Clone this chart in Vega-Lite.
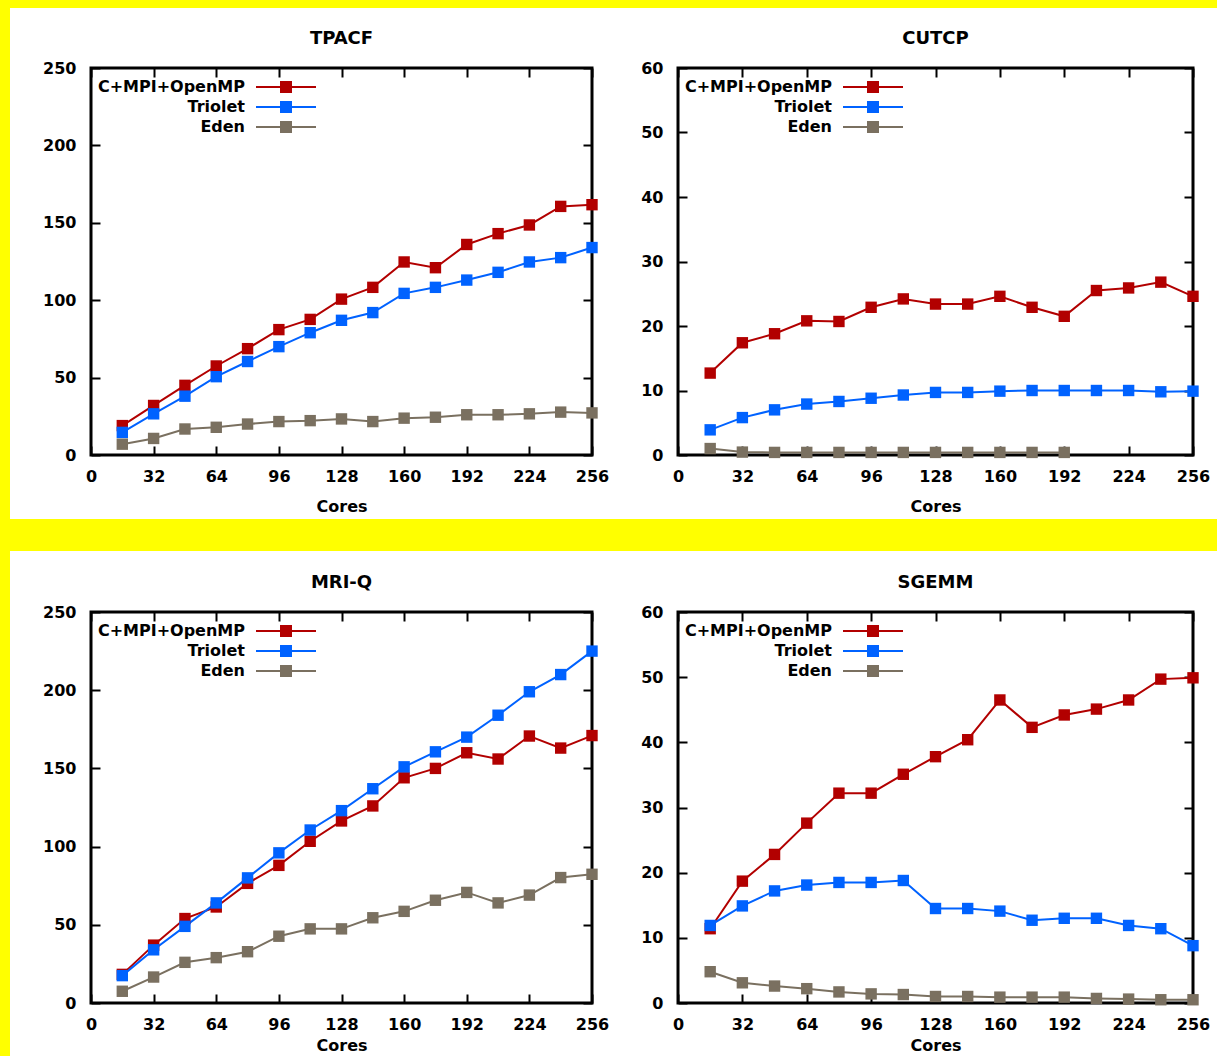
{
  "$schema": "https://vega.github.io/schema/vega-lite/v6.json",
  "background": "white",
  "padding": 0,
  "config": {
    "view": {"stroke": "black", "strokeWidth": 3},
    "axis": {"domain": false, "grid": false, "tickSize": -9, "tickWidth": 2, "tickColor": "black", "labelFont": "DejaVu Sans", "labelFontWeight": "bold", "labelFontSize": 16, "labelColor": "black", "labelOverlap": false, "labelFlush": false, "titleFont": "DejaVu Sans", "titleFontWeight": "bold", "titleFontSize": 16, "titleColor": "black"},
    "title": {"font": "DejaVu Sans", "fontSize": 18, "fontWeight": "bold", "color": "black", "offset": 12},
    "legend": {"title": null, "padding": 0, "symbolStrokeWidth": 0, "symbolOpacity": 1, "labelLimit": 400, "labelFont": "DejaVu Sans", "labelFontWeight": "bold", "labelFontSize": 16, "labelColor": "black", "rowPadding": 4}
  },
  "spacing": 0,
  "resolve": {"scale": {"color": "independent"}, "legend": {"color": "independent"}},
  "hconcat": [
    {"width": 10, "height": 1056, "data": {"values": [{"k": 0}]}, "mark": {"type": "point", "opacity": 0, "size": 1}, "encoding": {}, "view": {"fill": "#ffff00", "stroke": null}},
    {
      "spacing": 0,
      "resolve": {"scale": {"color": "independent"}, "legend": {"color": "independent"}},
      "vconcat": [
        {"width": 1207, "height": 8, "data": {"values": [{"k": 0}]}, "mark": {"type": "point", "opacity": 0, "size": 1}, "encoding": {}, "view": {"fill": "#ffff00", "stroke": null}},
        {"width": 1207, "height": 20, "data": {"values": [{"k": 0}]}, "mark": {"type": "point", "opacity": 0, "size": 1}, "encoding": {}, "view": {"stroke": null}},
        {
          "spacing": 0,
          "resolve": {"scale": {"color": "independent"}, "legend": {"color": "independent"}},
          "hconcat": [
            {"width": 1, "height": 1, "data": {"values": [{"k": 0}]}, "mark": {"type": "point", "opacity": 0, "size": 1}, "encoding": {}, "view": {"stroke": null}},
            {
              "width": 501, "height": 387,
              "title": "TPACF",
              "data": {"values": [
                {"c":16,"v":19,"s":"C+MPI+OpenMP"},{"c":32,"v":32,"s":"C+MPI+OpenMP"},{"c":48,"v":45,"s":"C+MPI+OpenMP"},{"c":64,"v":57.5,"s":"C+MPI+OpenMP"},{"c":80,"v":68.7,"s":"C+MPI+OpenMP"},{"c":96,"v":81,"s":"C+MPI+OpenMP"},{"c":112,"v":87.6,"s":"C+MPI+OpenMP"},{"c":128,"v":100.7,"s":"C+MPI+OpenMP"},{"c":144,"v":108.3,"s":"C+MPI+OpenMP"},{"c":160,"v":124.7,"s":"C+MPI+OpenMP"},{"c":176,"v":121,"s":"C+MPI+OpenMP"},{"c":192,"v":136,"s":"C+MPI+OpenMP"},{"c":208,"v":143,"s":"C+MPI+OpenMP"},{"c":224,"v":148.6,"s":"C+MPI+OpenMP"},{"c":240,"v":160.6,"s":"C+MPI+OpenMP"},{"c":256,"v":161.7,"s":"C+MPI+OpenMP"},
                {"c":16,"v":14.6,"s":"Triolet"},{"c":32,"v":26.6,"s":"Triolet"},{"c":48,"v":38,"s":"Triolet"},{"c":64,"v":50.6,"s":"Triolet"},{"c":80,"v":60.4,"s":"Triolet"},{"c":96,"v":70,"s":"Triolet"},{"c":112,"v":79,"s":"Triolet"},{"c":128,"v":87,"s":"Triolet"},{"c":144,"v":92,"s":"Triolet"},{"c":160,"v":104.4,"s":"Triolet"},{"c":176,"v":108.3,"s":"Triolet"},{"c":192,"v":113,"s":"Triolet"},{"c":208,"v":118,"s":"Triolet"},{"c":224,"v":124.7,"s":"Triolet"},{"c":240,"v":127.5,"s":"Triolet"},{"c":256,"v":134,"s":"Triolet"},
                {"c":16,"v":7,"s":"Eden"},{"c":32,"v":10.7,"s":"Eden"},{"c":48,"v":16.8,"s":"Eden"},{"c":64,"v":17.9,"s":"Eden"},{"c":80,"v":20,"s":"Eden"},{"c":96,"v":21.6,"s":"Eden"},{"c":112,"v":22.2,"s":"Eden"},{"c":128,"v":23.3,"s":"Eden"},{"c":144,"v":21.6,"s":"Eden"},{"c":160,"v":23.8,"s":"Eden"},{"c":176,"v":24.4,"s":"Eden"},{"c":192,"v":26,"s":"Eden"},{"c":208,"v":26,"s":"Eden"},{"c":224,"v":26.6,"s":"Eden"},{"c":240,"v":27.7,"s":"Eden"},{"c":256,"v":27.2,"s":"Eden"}
              ]},
              "resolve": {"axis": {"x": "independent", "y": "independent"}},
              "layer": [
                {"mark": {"type": "line", "strokeWidth": 2},
                 "encoding": {
                   "x": {"field": "c", "type": "quantitative", "scale": {"domain": [0, 256], "nice": false}, "axis": {"orient": "bottom", "values": [0,32,64,96,128,160,192,224,256], "title": "Cores", "labelPadding": 22, "titlePadding": 14}},
                   "y": {"field": "v", "type": "quantitative", "scale": {"domain": [0, 250], "nice": false}, "axis": {"orient": "left", "values": [0,50,100,150,200,250], "title": null, "labelPadding": 24, "minExtent": 78}},
                   "color": {"field": "s", "type": "nominal", "sort": null, "scale": {"domain": ["C+MPI+OpenMP","Triolet","Eden"], "range": ["#b20000","#0062ff","#7a7060"]},
                     "legend": {"orient": "none", "legendX": 187, "legendY": 11, "symbolType": "M-5,-0.18H5V0.18H-5Z M-1,-1H1V1H-1Z", "symbolSize": 144, "labelAlign": "right", "labelOffset": -49}}
                 }},
                {"mark": {"type": "point", "shape": "square", "filled": true, "size": 130, "opacity": 1},
                 "encoding": {
                   "x": {"field": "c", "type": "quantitative", "axis": null},
                   "y": {"field": "v", "type": "quantitative", "axis": null},
                   "color": {"field": "s", "type": "nominal", "sort": null, "scale": {"domain": ["C+MPI+OpenMP","Triolet","Eden"], "range": ["#b20000","#0062ff","#7a7060"]},
                     "legend": {"orient": "none", "legendX": 187, "legendY": 11, "symbolType": "M-5,-0.18H5V0.18H-5Z M-1,-1H1V1H-1Z", "symbolSize": 144, "labelAlign": "right", "labelOffset": -49}}
                 }},
                {"mark": {"type": "point", "opacity": 0},
                 "encoding": {
                   "x": {"field": "c", "type": "quantitative", "axis": {"orient": "top", "values": [0,32,64,96,128,160,192,224,256], "labels": false, "title": null}},
                   "y": {"field": "v", "type": "quantitative", "axis": {"orient": "right", "values": [0,50,100,150,200,250], "labels": false, "title": null}}
                 }}
              ]
            },
            {
              "width": 515, "height": 387,
              "title": "CUTCP",
              "data": {"values": [
                {"c":16,"v":12.7,"s":"C+MPI+OpenMP"},{"c":32,"v":17.4,"s":"C+MPI+OpenMP"},{"c":48,"v":18.8,"s":"C+MPI+OpenMP"},{"c":64,"v":20.8,"s":"C+MPI+OpenMP"},{"c":80,"v":20.7,"s":"C+MPI+OpenMP"},{"c":96,"v":22.9,"s":"C+MPI+OpenMP"},{"c":112,"v":24.2,"s":"C+MPI+OpenMP"},{"c":128,"v":23.4,"s":"C+MPI+OpenMP"},{"c":144,"v":23.4,"s":"C+MPI+OpenMP"},{"c":160,"v":24.6,"s":"C+MPI+OpenMP"},{"c":176,"v":22.9,"s":"C+MPI+OpenMP"},{"c":192,"v":21.5,"s":"C+MPI+OpenMP"},{"c":208,"v":25.5,"s":"C+MPI+OpenMP"},{"c":224,"v":25.9,"s":"C+MPI+OpenMP"},{"c":240,"v":26.8,"s":"C+MPI+OpenMP"},{"c":256,"v":24.6,"s":"C+MPI+OpenMP"},
                {"c":16,"v":3.9,"s":"Triolet"},{"c":32,"v":5.8,"s":"Triolet"},{"c":48,"v":7,"s":"Triolet"},{"c":64,"v":7.9,"s":"Triolet"},{"c":80,"v":8.3,"s":"Triolet"},{"c":96,"v":8.8,"s":"Triolet"},{"c":112,"v":9.3,"s":"Triolet"},{"c":128,"v":9.7,"s":"Triolet"},{"c":144,"v":9.7,"s":"Triolet"},{"c":160,"v":9.9,"s":"Triolet"},{"c":176,"v":10,"s":"Triolet"},{"c":192,"v":10,"s":"Triolet"},{"c":208,"v":10,"s":"Triolet"},{"c":224,"v":10,"s":"Triolet"},{"c":240,"v":9.8,"s":"Triolet"},{"c":256,"v":9.9,"s":"Triolet"},
                {"c":16,"v":1,"s":"Eden"},{"c":32,"v":0.45,"s":"Eden"},{"c":48,"v":0.4,"s":"Eden"},{"c":64,"v":0.4,"s":"Eden"},{"c":80,"v":0.4,"s":"Eden"},{"c":96,"v":0.4,"s":"Eden"},{"c":112,"v":0.4,"s":"Eden"},{"c":128,"v":0.4,"s":"Eden"},{"c":144,"v":0.4,"s":"Eden"},{"c":160,"v":0.4,"s":"Eden"},{"c":176,"v":0.4,"s":"Eden"},{"c":192,"v":0.4,"s":"Eden"}
              ]},
              "resolve": {"axis": {"x": "independent", "y": "independent"}},
              "layer": [
                {"mark": {"type": "line", "strokeWidth": 2},
                 "encoding": {
                   "x": {"field": "c", "type": "quantitative", "scale": {"domain": [0, 256], "nice": false}, "axis": {"orient": "bottom", "values": [0,32,64,96,128,160,192,224,256], "title": "Cores", "labelPadding": 22, "titlePadding": 14}},
                   "y": {"field": "v", "type": "quantitative", "scale": {"domain": [0, 60], "nice": false}, "axis": {"orient": "left", "values": [0,10,20,30,40,50,60], "title": null, "labelPadding": 24, "minExtent": 65}},
                   "color": {"field": "s", "type": "nominal", "sort": null, "scale": {"domain": ["C+MPI+OpenMP","Triolet","Eden"], "range": ["#b20000","#0062ff","#7a7060"]},
                     "legend": {"orient": "none", "legendX": 187, "legendY": 11, "symbolType": "M-5,-0.18H5V0.18H-5Z M-1,-1H1V1H-1Z", "symbolSize": 144, "labelAlign": "right", "labelOffset": -49}}
                 }},
                {"mark": {"type": "point", "shape": "square", "filled": true, "size": 130, "opacity": 1},
                 "encoding": {
                   "x": {"field": "c", "type": "quantitative", "axis": null},
                   "y": {"field": "v", "type": "quantitative", "axis": null},
                   "color": {"field": "s", "type": "nominal", "sort": null, "scale": {"domain": ["C+MPI+OpenMP","Triolet","Eden"], "range": ["#b20000","#0062ff","#7a7060"]},
                     "legend": {"orient": "none", "legendX": 187, "legendY": 11, "symbolType": "M-5,-0.18H5V0.18H-5Z M-1,-1H1V1H-1Z", "symbolSize": 144, "labelAlign": "right", "labelOffset": -49}}
                 }},
                {"mark": {"type": "point", "opacity": 0},
                 "encoding": {
                   "x": {"field": "c", "type": "quantitative", "axis": {"orient": "top", "values": [0,32,64,96,128,160,192,224,256], "labels": false, "title": null}},
                   "y": {"field": "v", "type": "quantitative", "axis": {"orient": "right", "values": [0,10,20,30,40,50,60], "labels": false, "title": null}}
                 }}
              ]
            }
          ]
        },
        {"width": 1207, "height": 3, "data": {"values": [{"k": 0}]}, "mark": {"type": "point", "opacity": 0, "size": 1}, "encoding": {}, "view": {"stroke": null}},
        {"width": 1207, "height": 32, "data": {"values": [{"k": 0}]}, "mark": {"type": "point", "opacity": 0, "size": 1}, "encoding": {}, "view": {"fill": "#ffff00", "stroke": null}},
        {"width": 1207, "height": 21, "data": {"values": [{"k": 0}]}, "mark": {"type": "point", "opacity": 0, "size": 1}, "encoding": {}, "view": {"stroke": null}},
        {
          "spacing": 0,
          "resolve": {"scale": {"color": "independent"}, "legend": {"color": "independent"}},
          "hconcat": [
            {"width": 1, "height": 1, "data": {"values": [{"k": 0}]}, "mark": {"type": "point", "opacity": 0, "size": 1}, "encoding": {}, "view": {"stroke": null}},
            {
              "width": 501, "height": 391,
              "title": "MRI-Q",
              "data": {"values": [
                {"c":16,"v":18.3,"s":"C+MPI+OpenMP"},{"c":32,"v":37,"s":"C+MPI+OpenMP"},{"c":48,"v":54,"s":"C+MPI+OpenMP"},{"c":64,"v":61.4,"s":"C+MPI+OpenMP"},{"c":80,"v":76.5,"s":"C+MPI+OpenMP"},{"c":96,"v":88,"s":"C+MPI+OpenMP"},{"c":112,"v":103.4,"s":"C+MPI+OpenMP"},{"c":128,"v":116.4,"s":"C+MPI+OpenMP"},{"c":144,"v":126,"s":"C+MPI+OpenMP"},{"c":160,"v":144,"s":"C+MPI+OpenMP"},{"c":176,"v":150,"s":"C+MPI+OpenMP"},{"c":192,"v":160,"s":"C+MPI+OpenMP"},{"c":208,"v":156,"s":"C+MPI+OpenMP"},{"c":224,"v":170.7,"s":"C+MPI+OpenMP"},{"c":240,"v":163,"s":"C+MPI+OpenMP"},{"c":256,"v":171,"s":"C+MPI+OpenMP"},
                {"c":16,"v":17.5,"s":"Triolet"},{"c":32,"v":34,"s":"Triolet"},{"c":48,"v":49,"s":"Triolet"},{"c":64,"v":64,"s":"Triolet"},{"c":80,"v":80,"s":"Triolet"},{"c":96,"v":96,"s":"Triolet"},{"c":112,"v":110.6,"s":"Triolet"},{"c":128,"v":123,"s":"Triolet"},{"c":144,"v":137,"s":"Triolet"},{"c":160,"v":151,"s":"Triolet"},{"c":176,"v":160.6,"s":"Triolet"},{"c":192,"v":170,"s":"Triolet"},{"c":208,"v":184,"s":"Triolet"},{"c":224,"v":199,"s":"Triolet"},{"c":240,"v":210,"s":"Triolet"},{"c":256,"v":225,"s":"Triolet"},
                {"c":16,"v":7.5,"s":"Eden"},{"c":32,"v":16.6,"s":"Eden"},{"c":48,"v":26,"s":"Eden"},{"c":64,"v":29,"s":"Eden"},{"c":80,"v":32.8,"s":"Eden"},{"c":96,"v":42.7,"s":"Eden"},{"c":112,"v":47.4,"s":"Eden"},{"c":128,"v":47.4,"s":"Eden"},{"c":144,"v":54.5,"s":"Eden"},{"c":160,"v":58.6,"s":"Eden"},{"c":176,"v":65.7,"s":"Eden"},{"c":192,"v":70.7,"s":"Eden"},{"c":208,"v":64,"s":"Eden"},{"c":224,"v":69,"s":"Eden"},{"c":240,"v":80.2,"s":"Eden"},{"c":256,"v":82.3,"s":"Eden"}
              ]},
              "resolve": {"axis": {"x": "independent", "y": "independent"}},
              "layer": [
                {"mark": {"type": "line", "strokeWidth": 2},
                 "encoding": {
                   "x": {"field": "c", "type": "quantitative", "scale": {"domain": [0, 256], "nice": false}, "axis": {"orient": "bottom", "values": [0,32,64,96,128,160,192,224,256], "title": "Cores", "labelPadding": 22, "titlePadding": 5}},
                   "y": {"field": "v", "type": "quantitative", "scale": {"domain": [0, 250], "nice": false}, "axis": {"orient": "left", "values": [0,50,100,150,200,250], "title": null, "labelPadding": 24, "minExtent": 78}},
                   "color": {"field": "s", "type": "nominal", "sort": null, "scale": {"domain": ["C+MPI+OpenMP","Triolet","Eden"], "range": ["#b20000","#0062ff","#7a7060"]},
                     "legend": {"orient": "none", "legendX": 187, "legendY": 11, "symbolType": "M-5,-0.18H5V0.18H-5Z M-1,-1H1V1H-1Z", "symbolSize": 144, "labelAlign": "right", "labelOffset": -49}}
                 }},
                {"mark": {"type": "point", "shape": "square", "filled": true, "size": 130, "opacity": 1},
                 "encoding": {
                   "x": {"field": "c", "type": "quantitative", "axis": null},
                   "y": {"field": "v", "type": "quantitative", "axis": null},
                   "color": {"field": "s", "type": "nominal", "sort": null, "scale": {"domain": ["C+MPI+OpenMP","Triolet","Eden"], "range": ["#b20000","#0062ff","#7a7060"]},
                     "legend": {"orient": "none", "legendX": 187, "legendY": 11, "symbolType": "M-5,-0.18H5V0.18H-5Z M-1,-1H1V1H-1Z", "symbolSize": 144, "labelAlign": "right", "labelOffset": -49}}
                 }},
                {"mark": {"type": "point", "opacity": 0},
                 "encoding": {
                   "x": {"field": "c", "type": "quantitative", "axis": {"orient": "top", "values": [0,32,64,96,128,160,192,224,256], "labels": false, "title": null}},
                   "y": {"field": "v", "type": "quantitative", "axis": {"orient": "right", "values": [0,50,100,150,200,250], "labels": false, "title": null}}
                 }}
              ]
            },
            {
              "width": 515, "height": 391,
              "title": "SGEMM",
              "data": {"values": [
                {"c":16,"v":11.4,"s":"C+MPI+OpenMP"},{"c":32,"v":18.7,"s":"C+MPI+OpenMP"},{"c":48,"v":22.8,"s":"C+MPI+OpenMP"},{"c":64,"v":27.6,"s":"C+MPI+OpenMP"},{"c":80,"v":32.2,"s":"C+MPI+OpenMP"},{"c":96,"v":32.2,"s":"C+MPI+OpenMP"},{"c":112,"v":35.1,"s":"C+MPI+OpenMP"},{"c":128,"v":37.8,"s":"C+MPI+OpenMP"},{"c":144,"v":40.4,"s":"C+MPI+OpenMP"},{"c":160,"v":46.5,"s":"C+MPI+OpenMP"},{"c":176,"v":42.3,"s":"C+MPI+OpenMP"},{"c":192,"v":44.2,"s":"C+MPI+OpenMP"},{"c":208,"v":45.1,"s":"C+MPI+OpenMP"},{"c":224,"v":46.5,"s":"C+MPI+OpenMP"},{"c":240,"v":49.7,"s":"C+MPI+OpenMP"},{"c":256,"v":49.9,"s":"C+MPI+OpenMP"},
                {"c":16,"v":11.9,"s":"Triolet"},{"c":32,"v":14.9,"s":"Triolet"},{"c":48,"v":17.2,"s":"Triolet"},{"c":64,"v":18.1,"s":"Triolet"},{"c":80,"v":18.5,"s":"Triolet"},{"c":96,"v":18.5,"s":"Triolet"},{"c":112,"v":18.8,"s":"Triolet"},{"c":128,"v":14.5,"s":"Triolet"},{"c":144,"v":14.5,"s":"Triolet"},{"c":160,"v":14.1,"s":"Triolet"},{"c":176,"v":12.7,"s":"Triolet"},{"c":192,"v":13,"s":"Triolet"},{"c":208,"v":13,"s":"Triolet"},{"c":224,"v":11.9,"s":"Triolet"},{"c":240,"v":11.4,"s":"Triolet"},{"c":256,"v":8.8,"s":"Triolet"},
                {"c":16,"v":4.8,"s":"Eden"},{"c":32,"v":3.1,"s":"Eden"},{"c":48,"v":2.6,"s":"Eden"},{"c":64,"v":2.2,"s":"Eden"},{"c":80,"v":1.7,"s":"Eden"},{"c":96,"v":1.4,"s":"Eden"},{"c":112,"v":1.3,"s":"Eden"},{"c":128,"v":1,"s":"Eden"},{"c":144,"v":1,"s":"Eden"},{"c":160,"v":0.9,"s":"Eden"},{"c":176,"v":0.9,"s":"Eden"},{"c":192,"v":0.9,"s":"Eden"},{"c":208,"v":0.7,"s":"Eden"},{"c":224,"v":0.6,"s":"Eden"},{"c":240,"v":0.5,"s":"Eden"},{"c":256,"v":0.5,"s":"Eden"}
              ]},
              "resolve": {"axis": {"x": "independent", "y": "independent"}},
              "layer": [
                {"mark": {"type": "line", "strokeWidth": 2},
                 "encoding": {
                   "x": {"field": "c", "type": "quantitative", "scale": {"domain": [0, 256], "nice": false}, "axis": {"orient": "bottom", "values": [0,32,64,96,128,160,192,224,256], "title": "Cores", "labelPadding": 22, "titlePadding": 5}},
                   "y": {"field": "v", "type": "quantitative", "scale": {"domain": [0, 60], "nice": false}, "axis": {"orient": "left", "values": [0,10,20,30,40,50,60], "title": null, "labelPadding": 24, "minExtent": 65}},
                   "color": {"field": "s", "type": "nominal", "sort": null, "scale": {"domain": ["C+MPI+OpenMP","Triolet","Eden"], "range": ["#b20000","#0062ff","#7a7060"]},
                     "legend": {"orient": "none", "legendX": 187, "legendY": 11, "symbolType": "M-5,-0.18H5V0.18H-5Z M-1,-1H1V1H-1Z", "symbolSize": 144, "labelAlign": "right", "labelOffset": -49}}
                 }},
                {"mark": {"type": "point", "shape": "square", "filled": true, "size": 130, "opacity": 1},
                 "encoding": {
                   "x": {"field": "c", "type": "quantitative", "axis": null},
                   "y": {"field": "v", "type": "quantitative", "axis": null},
                   "color": {"field": "s", "type": "nominal", "sort": null, "scale": {"domain": ["C+MPI+OpenMP","Triolet","Eden"], "range": ["#b20000","#0062ff","#7a7060"]},
                     "legend": {"orient": "none", "legendX": 187, "legendY": 11, "symbolType": "M-5,-0.18H5V0.18H-5Z M-1,-1H1V1H-1Z", "symbolSize": 144, "labelAlign": "right", "labelOffset": -49}}
                 }},
                {"mark": {"type": "point", "opacity": 0},
                 "encoding": {
                   "x": {"field": "c", "type": "quantitative", "axis": {"orient": "top", "values": [0,32,64,96,128,160,192,224,256], "labels": false, "title": null}},
                   "y": {"field": "v", "type": "quantitative", "axis": {"orient": "right", "values": [0,10,20,30,40,50,60], "labels": false, "title": null}}
                 }}
              ]
            }
          ]
        }
      ]
    }
  ]
}
